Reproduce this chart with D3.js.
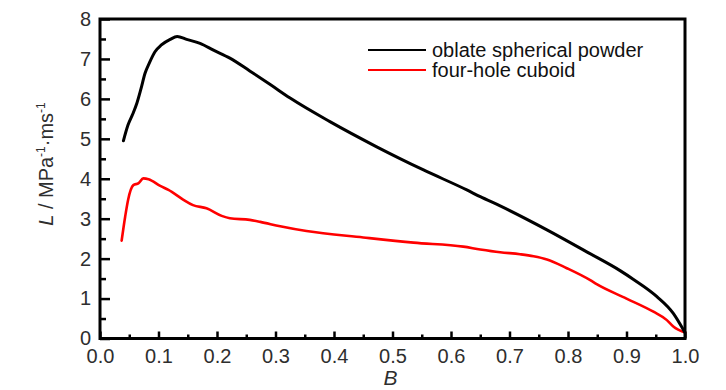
<!DOCTYPE html>
<html>
<head>
<meta charset="utf-8">
<script src="https://cdn.jsdelivr.net/npm/d3@7"></script>
<style>
  html, body { margin: 0; padding: 0; background: #fff; }
  svg { display: block; }
  text { font-family: "Liberation Sans", Arial, sans-serif; }
</style>
</head>
<body>
<svg id="chart" width="726" height="390"></svg>
<script>
// ---- data ----
const seriesNames = ["oblate spherical powder", "four-hole cuboid"];
const seriesColors = ["#000000", "#ff0000"];

const oblateB = [0.040, 0.048, 0.056, 0.063, 0.070, 0.077, 0.085, 0.094, 0.105, 0.120, 0.132, 0.148, 0.171, 0.194, 0.222, 0.256, 0.291, 0.325, 0.393, 0.473, 0.553, 0.627, 0.650, 0.684, 0.764, 0.832, 0.889, 0.912, 0.952, 0.980, 0.994, 0.999];
const oblateL = [4.95, 5.35, 5.62, 5.89, 6.25, 6.64, 6.92, 7.18, 7.35, 7.49, 7.56, 7.49, 7.39, 7.22, 7.02, 6.70, 6.36, 6.02, 5.43, 4.80, 4.22, 3.72, 3.55, 3.32, 2.72, 2.17, 1.70, 1.48, 1.05, 0.63, 0.30, 0.17];

const cuboidB = [0.037, 0.043, 0.048, 0.057, 0.066, 0.074, 0.083, 0.103, 0.117, 0.142, 0.159, 0.182, 0.208, 0.222, 0.256, 0.274, 0.308, 0.353, 0.450, 0.536, 0.621, 0.650, 0.684, 0.718, 0.741, 0.764, 0.798, 0.838, 0.849, 0.900, 0.946, 0.969, 0.980, 1.000];
const cuboidL = [2.45, 3.05, 3.47, 3.84, 3.89, 4.01, 3.99, 3.82, 3.72, 3.48, 3.34, 3.26, 3.07, 3.01, 2.97, 2.92, 2.81, 2.69, 2.53, 2.40, 2.30, 2.23, 2.16, 2.11, 2.06, 1.98, 1.76, 1.46, 1.36, 1.00, 0.67, 0.46, 0.30, 0.15];

const xTicks = [0.0, 0.1, 0.2, 0.3, 0.4, 0.5, 0.6, 0.7, 0.8, 0.9, 1.0];
const xMinorTicks = [0.05, 0.15, 0.25, 0.35, 0.45, 0.55, 0.65, 0.75, 0.85, 0.95];
const yTicks = [0, 1, 2, 3, 4, 5, 6, 7, 8];
const yMinorTicks = [0.5, 1.5, 2.5, 3.5, 4.5, 5.5, 6.5, 7.5];

// ---- layout ----
const svg = d3.select("#chart");
const mLeft = 100, mRight = 685, mTop = 19, mBottom = 338.5;

const x = d3.scaleLinear().domain([0, 1]).range([mLeft, mRight]);
const y = d3.scaleLinear().domain([0, 8]).range([mBottom, mTop]);

const labelColor = "#2e2e2e";

// X axis
const gx = svg.append("g").attr("transform", `translate(0,${mBottom})`)
  .call(d3.axisBottom(x).tickValues(xTicks).tickFormat(d3.format(".1f"))
    .tickSizeInner(-7).tickSizeOuter(0).tickPadding(10.5));
gx.select(".domain").remove();
gx.selectAll(".tick line").attr("stroke", "#000").attr("stroke-width", 2.5);
gx.selectAll(".tick text").attr("font-size", 20).attr("fill", labelColor)
  .attr("font-family", "Liberation Sans, Arial, sans-serif");

const gxm = svg.append("g").attr("transform", `translate(0,${mBottom})`)
  .call(d3.axisBottom(x).tickValues(xMinorTicks).tickFormat("")
    .tickSizeInner(-4).tickSizeOuter(0));
gxm.select(".domain").remove();
gxm.selectAll(".tick line").attr("stroke", "#000").attr("stroke-width", 2.5);

// Y axis
const gy = svg.append("g").attr("transform", `translate(${mLeft},0)`)
  .call(d3.axisLeft(y).tickValues(yTicks).tickFormat(d3.format("d"))
    .tickSizeInner(-10).tickSizeOuter(0).tickPadding(9));
gy.select(".domain").remove();
gy.selectAll(".tick line").attr("stroke", "#000").attr("stroke-width", 2.5);
gy.selectAll(".tick text").attr("font-size", 20).attr("fill", labelColor)
  .attr("dy", "0.32em")
  .attr("font-family", "Liberation Sans, Arial, sans-serif");

const gym = svg.append("g").attr("transform", `translate(${mLeft},0)`)
  .call(d3.axisLeft(y).tickValues(yMinorTicks).tickFormat("")
    .tickSizeInner(-6).tickSizeOuter(0));
gym.select(".domain").remove();
gym.selectAll(".tick line").attr("stroke", "#000").attr("stroke-width", 2.5);

// curves
const line = d3.line().x(d => x(d[0])).y(d => y(d[1])).curve(d3.curveMonotoneX);
const series = [
  { name: seriesNames[0], color: seriesColors[0], pts: oblateB.map((b, i) => [b, oblateL[i]]), w: 3 },
  { name: seriesNames[1], color: seriesColors[1], pts: cuboidB.map((b, i) => [b, cuboidL[i]]), w: 2.6 }
];
series.slice().reverse().forEach(s => {
  svg.append("path").datum(s.pts).attr("d", line)
    .attr("fill", "none").attr("stroke", s.color).attr("stroke-width", s.w)
    .attr("stroke-linejoin", "round").attr("stroke-linecap", "round");
});

// frame
svg.append("rect").attr("x", mLeft).attr("y", mTop)
  .attr("width", mRight - mLeft).attr("height", mBottom - mTop)
  .attr("fill", "none").attr("stroke", "#000").attr("stroke-width", 3);

// legend
const legY = [50, 70];
series.forEach((s, i) => {
  svg.append("line").attr("x1", 368).attr("x2", 426).attr("y1", legY[i]).attr("y2", legY[i])
    .attr("stroke", s.color).attr("stroke-width", 2.2);
  svg.append("text").attr("x", 432).attr("y", legY[i] + 6.5)
    .attr("font-size", 20).attr("fill", "#111").text(s.name);
});

// axis titles
svg.append("text").attr("x", (mLeft + mRight) / 2 - 2).attr("y", 385)
  .attr("text-anchor", "middle").attr("font-size", 21).attr("font-style", "italic")
  .attr("fill", labelColor).text("B");

const yt = svg.append("text")
  .attr("transform", `translate(53,164) rotate(-90)`)
  .attr("text-anchor", "middle").attr("font-size", 20).attr("fill", labelColor);
yt.append("tspan").attr("font-style", "italic").text("L");
yt.append("tspan").text(" / MPa");
yt.append("tspan").attr("font-size", 12).attr("dy", -8).text("-1");
yt.append("tspan").attr("dy", 8).text("·ms");
yt.append("tspan").attr("font-size", 12).attr("dy", -8).text("-1");
</script>
</body>
</html>
